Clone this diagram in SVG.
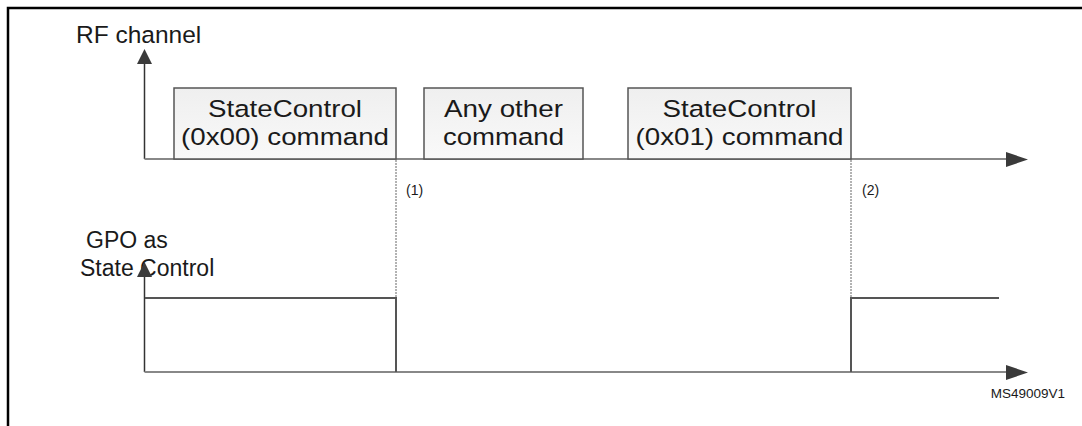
<svg xmlns="http://www.w3.org/2000/svg" width="1082" height="426" viewBox="0 0 1082 426">
<defs>
<linearGradient id="boxfill" x1="0" y1="0" x2="0" y2="1">
<stop offset="0" stop-color="#efefef"/>
<stop offset="1" stop-color="#f9f9f9"/>
</linearGradient>
</defs>
<style>
.lbl{font-family:"Liberation Sans",Arial,sans-serif;font-size:23px;fill:#1a1a1a}
.btxt{font-family:"Liberation Sans",Arial,sans-serif;font-size:24.5px;fill:#1a1a1a}
.small{font-family:"Liberation Sans",Arial,sans-serif;font-size:14px;fill:#1a1a1a}
.box{fill:url(#boxfill);stroke:#555;stroke-width:1.5}
.axis{stroke:#888;stroke-width:2;fill:none}
.vaxis{stroke:#333;stroke-width:1.5;fill:none}
.sig{stroke:#555;stroke-width:2;fill:none}
.dot{stroke:#666;stroke-width:1;stroke-dasharray:2,1;fill:none}
.head{fill:#3a3a3a}
</style>
<rect width="1082" height="426" fill="#fff"/>
<g id="frame">
<path d="M8,426 V8 H1082" stroke="#000" stroke-width="2.5" fill="none"/>
</g>
<text class="lbl" x="76" y="43" style="font-size:24.5px">RF channel</text>
<text class="lbl" x="86" y="248">GPO as</text>
<text class="lbl" x="80" y="276">State Control</text>
<g id="connectors">
<line class="vaxis" x1="144.5" y1="159" x2="144.5" y2="62"/>
<polygon class="head" points="144.5,49 137,64 152,64"/>
<line class="axis" x1="144.5" y1="159" x2="1008" y2="159"/>
<polygon class="head" points="1028,159.5 1006,152 1006,167"/>
<line class="vaxis" x1="144.5" y1="372" x2="144.5" y2="274"/>
<polygon class="head" points="144.5,262 137,277 152,277"/>
<line class="axis" x1="144.5" y1="372" x2="1008" y2="372"/>
<polygon class="head" points="1028,372.5 1006,365 1006,380"/>
<line class="dot" x1="396" y1="160" x2="396" y2="298"/>
<line class="dot" x1="851" y1="160" x2="851" y2="298"/>
<polyline class="sig" points="145,298 396,298 396,372"/>
<polyline class="sig" points="851,372 851,298 999,298"/>
</g>
<g id="box1">
<rect class="box" x="174" y="88" width="222" height="71"/>
<text class="btxt" x="285" y="117" text-anchor="middle" textLength="154" lengthAdjust="spacingAndGlyphs">StateControl</text>
<text class="btxt" x="285" y="145" text-anchor="middle" textLength="208" lengthAdjust="spacingAndGlyphs">(0x00) command</text>
</g>
<g id="box2">
<rect class="box" x="424" y="88" width="159" height="71"/>
<text class="btxt" x="503.5" y="117" text-anchor="middle" textLength="119" lengthAdjust="spacingAndGlyphs">Any other</text>
<text class="btxt" x="503.5" y="145" text-anchor="middle" textLength="121" lengthAdjust="spacingAndGlyphs">command</text>
</g>
<g id="box3">
<rect class="box" x="628" y="88" width="223" height="71"/>
<text class="btxt" x="739.5" y="117" text-anchor="middle" textLength="154" lengthAdjust="spacingAndGlyphs">StateControl</text>
<text class="btxt" x="739.5" y="145" text-anchor="middle" textLength="208" lengthAdjust="spacingAndGlyphs">(0x01) command</text>
</g>
<text class="small" x="406" y="195">(1)</text>
<text class="small" x="862" y="195">(2)</text>
<text class="small" x="1065" y="398" text-anchor="end" style="font-size:13.5px">MS49009V1</text>
</svg>
